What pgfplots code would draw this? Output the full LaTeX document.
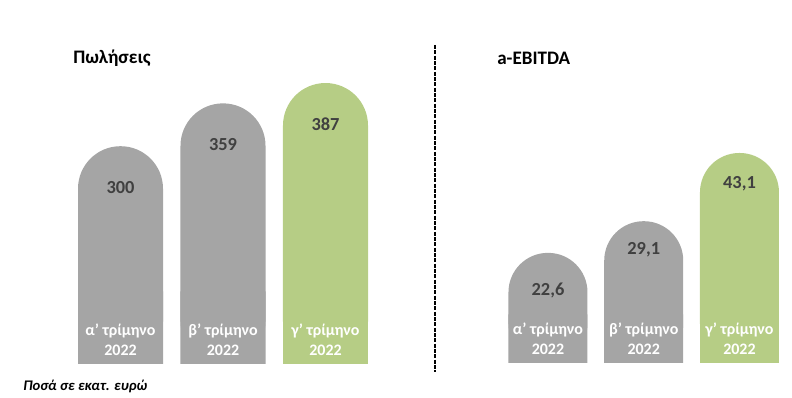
\documentclass[border=0pt]{standalone}
\usepackage{pgfplots}
\pgfplotsset{compat=1.18}
\usepackage{fontspec}
\setmainfont{Carlito}
\definecolor{barg}{HTML}{A5A5A5}
\definecolor{barv}{HTML}{B6CD85}
\definecolor{valc}{HTML}{404040}
\begin{document}
\begin{tikzpicture}[x=0.75pt,y=0.75pt]
\useasboundingbox (0,0) rectangle (792,398);
\pgfplotsset{
  roundbars/.style={
    scale only axis, anchor=south west,
    xmin=-0.5, xmax=2.5, ymin=0,
    axis line style={draw=none}, tick style={draw=none},
    ytick=\empty, xtick={0,1,2},
    xticklabels={{α’ τρίμηνο\\2022},{β’ τρίμηνο\\2022},{γ’ τρίμηνο\\2022}},
    xticklabel style={anchor=south, inner sep=0pt, yshift=10pt, text=white,
      align=center, font=\bfseries\fontsize{12}{15}\selectfont},
    axis on top,
    ybar, clip=false,
    /pgf/number format/assume math mode=true,
    every node near coord/.append style={anchor=center, text=valc,
      font=\bfseries\fontsize{13.8}{16}\selectfont},
  }
}
% Left panel: sales
\begin{axis}[roundbars, at={(51.9375pt,25.5pt)}, width=230.625pt, height=243pt, ymax=446.3,
  bar width=63.75pt,
  every node near coord/.append style={yshift=-30.75pt}]
\addplot[fill=barg, draw=none, rounded corners=31.8pt, bar shift=0pt, nodes near coords] coordinates {(0,300) (1,359)};
\addplot[fill=barg, draw=none, bar shift=0pt] coordinates {(0,100) (1,100)};
\addplot[fill=barv, draw=none, rounded corners=31.8pt, bar shift=0pt, nodes near coords] coordinates {(2,387)};
\addplot[fill=barv, draw=none, bar shift=0pt] coordinates {(2,100)};
\end{axis}
% Right panel: a-EBITDA
\begin{axis}[roundbars, at={(375.075pt,26.25pt)}, width=215.44pt, height=240pt, ymax=65.67,
  bar width=59.25pt,
  /pgf/number format/.cd, use comma, fixed, fixed zerofill, precision=1, /pgfplots/.cd]
\addplot[fill=barg, draw=none, rounded corners=29.5pt, bar shift=0pt, nodes near coords,
  every node near coord/.append style={yshift=-28.5pt}] coordinates {(0,22.6)};
\addplot[fill=barg, draw=none, rounded corners=29.5pt, bar shift=0pt, nodes near coords,
  every node near coord/.append style={yshift=-21.75pt}] coordinates {(1,29.1)};
\addplot[fill=barg, draw=none, bar shift=0pt] coordinates {(0,10) (1,10)};
\addplot[fill=barv, draw=none, rounded corners=29.5pt, bar shift=0pt, nodes near coords,
  every node near coord/.append style={yshift=-23.25pt}] coordinates {(2,43.1)};
\addplot[fill=barv, draw=none, bar shift=0pt] coordinates {(2,10)};
\end{axis}
% titles, divider, note
\node[anchor=west, inner sep=0pt, font=\bfseries\fontsize{14.3}{17}\selectfont] at (73,340) {Πωλήσεις};
\node[anchor=west, inner sep=0pt, font=\bfseries\fontsize{14.3}{17}\selectfont] at (497,340) {a-EBITDA};
\draw[line width=1.6pt, dash pattern=on 3pt off 1pt] (435,353) -- (435,26);
\node[anchor=west, inner sep=0pt, font=\bfseries\itshape\fontsize{11}{13}\selectfont] at (23,12) {Ποσά σε εκατ. ευρώ};
\end{tikzpicture}
\end{document}
